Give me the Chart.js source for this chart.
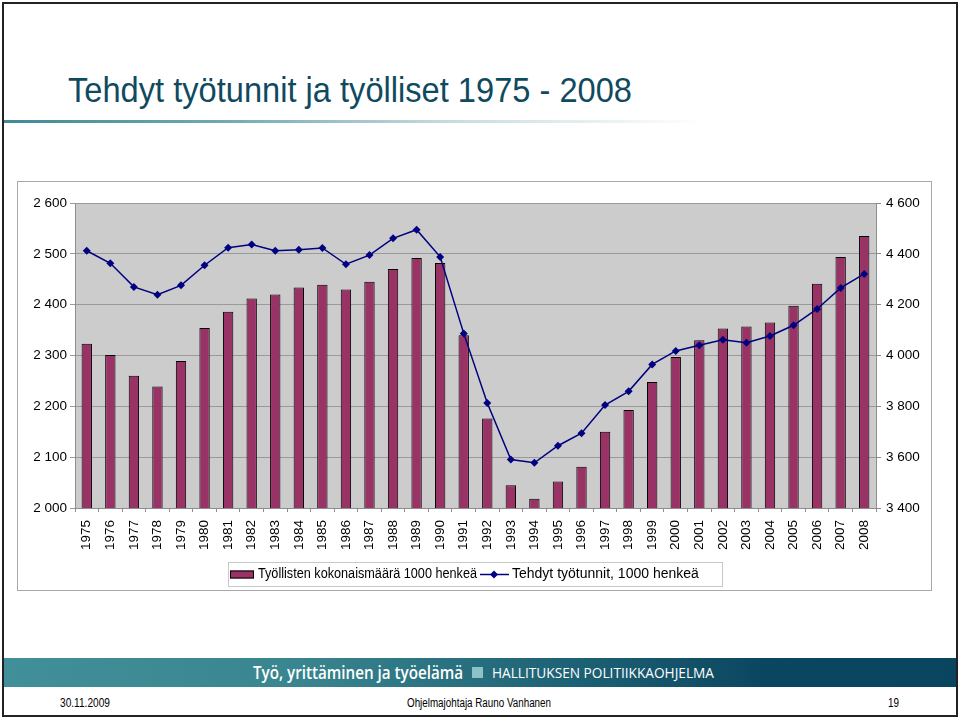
<!DOCTYPE html>
<html>
<head>
<meta charset="utf-8">
<script src="https://cdn.jsdelivr.net/npm/chart.js@4.4.1/dist/chart.umd.min.js"></script>
<style>
  html, body { margin:0; padding:0; background:#fff; }
  body { width:960px; height:718px; position:relative; overflow:hidden; font-family:"Liberation Sans", Arial, sans-serif; }
  #slide { position:absolute; left:2px; top:2px; width:952px; height:711px; border:2px solid #222; }
  .fit { position:absolute; white-space:nowrap; transform-origin:0 0; line-height:1; }
  #title { left:68px; top:72px; font-size:35px; color:#0f4a5f; }
  #uline { position:absolute; left:4px; top:120px; width:700px; height:3px;
           background:linear-gradient(to right, #3f8a96 0%, #6fa7b0 30%, #c9dde0 65%, rgba(255,255,255,0) 100%); }
  #box { position:absolute; left:17px; top:181px; width:913px; height:408px; border:1px solid #a8a8a8; background:#fff; }
  #cwrap { position:absolute; left:17px; top:181px; width:915px; height:409px; }
  #band { position:absolute; left:4px; top:658px; width:952px; height:29px;
          background:linear-gradient(to right, #418f98 0%, #3a8690 30%, #1d6174 60%, #0b4660 80%, #0a4560 100%); }
  #bt1 { left:253px; top:663px; font-size:18px; color:#fff; font-family:"Open Sans", sans-serif; font-weight:600; }
  #sq { position:absolute; left:472px; top:667px; width:11px; height:11px; background:#8cc3c6; }
  #bt2 { left:492px; top:665px; font-size:15px; color:#fff; font-family:"Open Sans", sans-serif; }
  .foot { font-size:12px; color:#000; top:697px; }
</style>
</head>
<body>
<div id="slide"></div>
<div id="title" class="fit" data-w="564">Tehdyt työtunnit ja työlliset 1975 - 2008</div>
<div id="uline"></div>
<div id="box"></div>
<div id="cwrap"><canvas id="c" width="915" height="409"></canvas></div>
<div id="band"></div>
<div id="bt1" class="fit" data-w="210">Työ, yrittäminen ja työelämä</div>
<div id="sq"></div>
<div id="bt2" class="fit" data-w="222">HALLITUKSEN POLITIIKKAOHJELMA</div>
<div class="fit foot" style="left:60px" data-w="50">30.11.2009</div>
<div class="fit foot" style="left:407px" data-w="144">Ohjelmajohtaja Rauno Vanhanen</div>
<div class="fit foot" style="left:888px" data-w="11">19</div>
<script>
// ---- data ----
const years = ["1975","1976","1977","1978","1979","1980","1981","1982","1983","1984","1985","1986","1987","1988","1989","1990","1991","1992","1993","1994","1995","1996","1997","1998","1999","2000","2001","2002","2003","2004","2005","2006","2007","2008"];
const employed = [2323,2301,2260,2239,2289,2354,2386,2412,2420,2434,2439,2430,2445,2470,2492,2482,2340,2176,2045,2018,2052,2081,2150,2193,2248,2297,2330,2353,2357,2365,2398,2441,2494,2535];
const hoursWorked = [4412,4363,4270,4239,4276,4355,4424,4437,4412,4416,4423,4359,4395,4461,4495,4388,4087,3813,3591,3578,3645,3694,3805,3859,3965,4018,4040,4062,4050,4077,4119,4183,4266,4321];
const leftTicks = [2000,2100,2200,2300,2400,2500,2600];
const rightTicks = [3400,3600,3800,4000,4200,4400,4600];
const seriesNames = ["Työllisten kokonaismäärä 1000 henkeä","Tehdyt työtunnit, 1000 henkeä"];

// fit condensed text
document.querySelectorAll('.fit').forEach(el => {
  const w = parseFloat(el.dataset.w);
  const nat = el.getBoundingClientRect().width;
  if (nat > 0) el.style.transform = 'scaleX(' + (w / nat) + ')';
});

const fmt = v => String(v).replace(/\B(?=(\d{3})+(?!\d))/g, ' ');
const FONT = { family: '"Liberation Sans", Arial, sans-serif', size: 13.5 };

const plotBg = {
  id: 'plotBg',
  beforeDraw(chart) {
    const { ctx, chartArea: a } = chart;
    ctx.save();
    ctx.fillStyle = '#cccccc';
    ctx.fillRect(a.left, a.top, a.right - a.left, a.bottom - a.top);
    ctx.strokeStyle = '#8c8c8c';
    ctx.lineWidth = 1;
    ctx.beginPath();
    ctx.moveTo(a.left, a.top + 0.5); ctx.lineTo(a.right, a.top + 0.5);
    ctx.stroke();
    ctx.restore();
  }
};

function fitText(ctx, txt, x, y, w) {
  const m = ctx.measureText(txt).width;
  ctx.save();
  ctx.translate(x, y);
  ctx.scale(Math.min(1, w / m), 1);
  ctx.fillText(txt, 0, 0);
  ctx.restore();
}

const legendBox = {
  id: 'legendBox',
  afterDraw(chart) {
    const ctx = chart.ctx;
    const x0 = 211, y0 = 381, x1 = 705, y1 = 405;
    ctx.save();
    ctx.fillStyle = '#fff';
    ctx.fillRect(x0, y0, x1 - x0, y1 - y0);
    ctx.strokeStyle = '#c8c8c8';
    ctx.lineWidth = 1;
    ctx.strokeRect(x0 + 0.5, y0 + 0.5, x1 - x0, y1 - y0);
    const cy = (y0 + y1) / 2 + 0.5;
    // bar swatch
    ctx.fillStyle = '#993366';
    ctx.fillRect(213, cy - 4, 24, 8);
    ctx.strokeStyle = '#000';
    ctx.strokeRect(213.5, cy - 3.5, 23, 7);
    ctx.font = '14px "Liberation Sans", Arial, sans-serif';
    ctx.fillStyle = '#000';
    ctx.textBaseline = 'middle';
    ctx.textAlign = 'left';
    fitText(ctx, seriesNames[0], 241, cy, 219);
    // line swatch
    ctx.strokeStyle = '#000080';
    ctx.lineWidth = 1.5;
    ctx.beginPath(); ctx.moveTo(463, cy); ctx.lineTo(492, cy); ctx.stroke();
    ctx.fillStyle = '#000080';
    ctx.beginPath();
    ctx.moveTo(477, cy - 4); ctx.lineTo(481, cy); ctx.lineTo(477, cy + 4); ctx.lineTo(473, cy);
    ctx.closePath(); ctx.fill();
    ctx.fillStyle = '#000';
    fitText(ctx, seriesNames[1], 495, cy, 205);
    ctx.restore();
  }
};

new Chart(document.getElementById('c'), {
  data: {
    labels: years,
    datasets: [
      {
        type: 'line', label: seriesNames[1], data: hoursWorked, yAxisID: 'yR',
        borderColor: '#000080', backgroundColor: '#000080', borderWidth: 1.5,
        pointStyle: 'rectRot', pointRadius: 4, pointBackgroundColor: '#000080', pointBorderWidth: 0,
        tension: 0, order: 0
      },
      {
        type: 'bar', label: seriesNames[0], data: employed, yAxisID: 'yL',
        backgroundColor: '#993366', borderColor: '#000000', borderWidth: 1,
        barPercentage: 0.44, categoryPercentage: 1.0, order: 1
      }
    ]
  },
  options: {
    responsive: false, animation: false,
    layout: { padding: { top: 22, bottom: 32, left: 0, right: 0 } },
    plugins: { legend: { display: false }, tooltip: { enabled: false } },
    scales: {
      x: {
        offset: true,
        grid: { display: true, drawOnChartArea: false, offset: true, color: '#8c8c8c', tickLength: 4 },
        border: { display: true, color: '#8c8c8c' },
        ticks: { color: '#000', font: FONT, minRotation: 90, maxRotation: 90, autoSkip: false, padding: 8 },
        afterFit(s) { s.height = 50; }
      },
      yL: {
        position: 'left', min: 2000, max: 2600,
        afterBuildTicks(s) { s.ticks = leftTicks.map(v => ({ value: v })); },
        grid: { color: '#9a9a9a', tickLength: 5 },
        border: { display: true, color: '#8c8c8c' },
        ticks: { color: '#000', font: FONT, padding: 3, callback: v => fmt(v) },
        afterFit(s) { s.width = 58; }
      },
      yR: {
        position: 'right', min: 3400, max: 4600,
        afterBuildTicks(s) { s.ticks = rightTicks.map(v => ({ value: v })); },
        grid: { drawOnChartArea: false, color: '#8c8c8c', tickLength: 5 },
        border: { display: true, color: '#8c8c8c' },
        ticks: { color: '#000', font: FONT, padding: 5, callback: v => fmt(v) },
        afterFit(s) { s.width = 56; }
      }
    }
  },
  plugins: [plotBg, legendBox]
});
</script>
</body>
</html>
